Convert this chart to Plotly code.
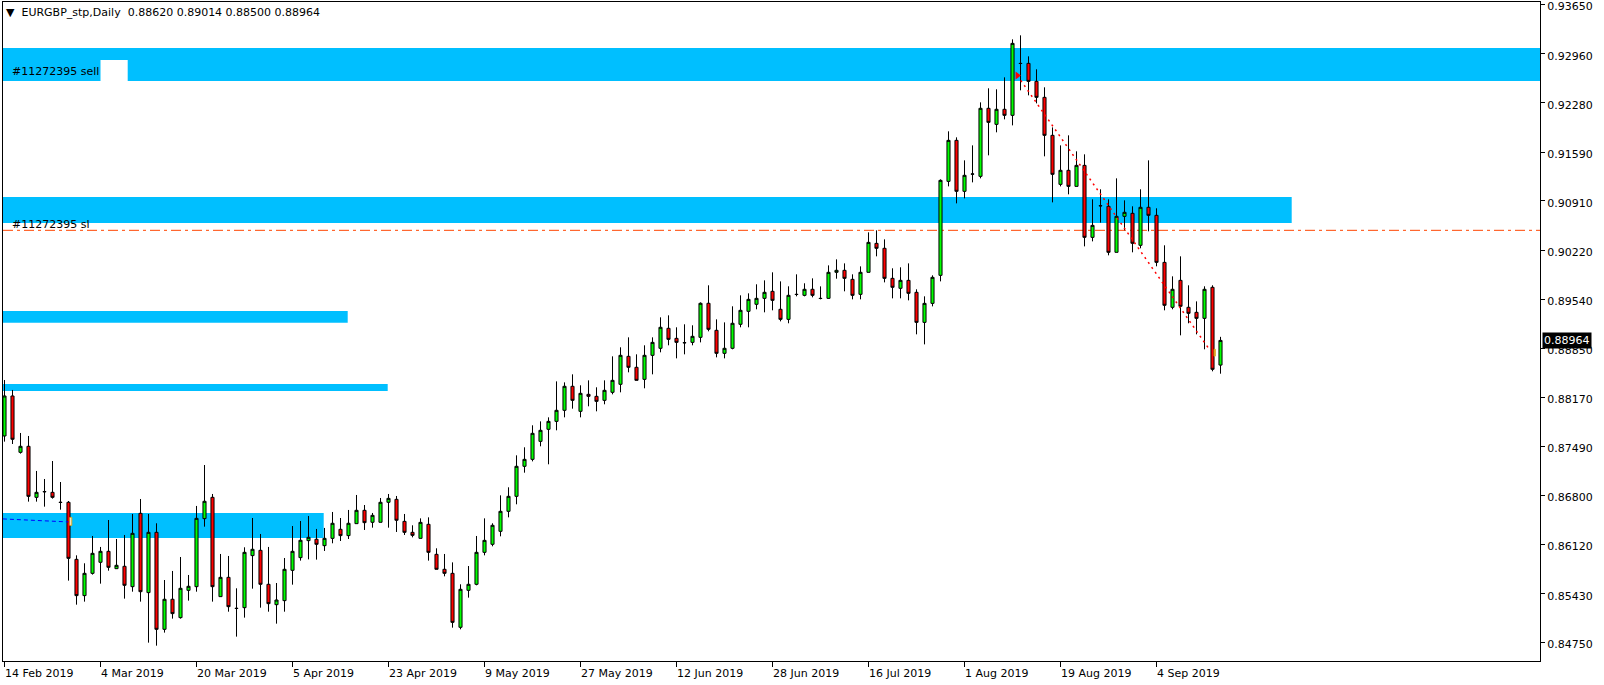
import plotly.graph_objects as go

# ---------------- data (EURGBP daily) ----------------
open_ = [0.87631, 0.88189, 0.87403, 0.87487, 0.86775, 0.86852, 0.86845, 0.86706, 0.86706, 0.85910,
         0.85404, 0.85715, 0.85869, 0.86022, 0.85780, 0.85813, 0.85529, 0.86552, 0.85446, 0.86287,
         0.84934, 0.85353, 0.85097, 0.85478, 0.85529, 0.86478, 0.86775, 0.85390, 0.85659, 0.85227,
         0.85236, 0.85962, 0.86036, 0.85562, 0.85278, 0.85334, 0.85757, 0.85934, 0.86171, 0.86190,
         0.86101, 0.86203, 0.86329, 0.86241, 0.86408, 0.86594, 0.86427, 0.86427, 0.86706, 0.86747,
         0.86440, 0.86287, 0.86203, 0.86399, 0.85980, 0.85771, 0.85715, 0.84962, 0.85478, 0.85562,
         0.86008, 0.86120, 0.86301, 0.86580, 0.86789, 0.87208, 0.87305, 0.87556, 0.87724, 0.87835,
         0.87989, 0.88324, 0.87975, 0.88212, 0.88184, 0.88128, 0.88240, 0.88352, 0.88742, 0.88589,
         0.88421, 0.88756, 0.88854, 0.89133, 0.88993, 0.88933, 0.88937, 0.89007, 0.89482, 0.89105,
         0.88784, 0.88854, 0.89189, 0.89370, 0.89468, 0.89551, 0.89649, 0.89398, 0.89258, 0.89607,
         0.89593, 0.89677, 0.89551, 0.89551, 0.89914, 0.89942, 0.89816, 0.89607, 0.89914, 0.90318,
         0.90249, 0.89830, 0.89691, 0.89802, 0.89635, 0.89216, 0.89481, 0.89872, 0.91183, 0.91755,
         0.91044, 0.91286, 0.91253, 0.92202, 0.91978, 0.92188, 0.92104, 0.92829, 0.92829, 0.92578,
         0.92355, 0.91825, 0.91141, 0.91337, 0.91113, 0.91406, 0.90402, 0.90844, 0.90835, 0.90193,
         0.90695, 0.90737, 0.90291, 0.90821, 0.90709, 0.90053, 0.89426, 0.89802, 0.89426, 0.89356,
         0.89272, 0.89705, 0.88620]
high = [0.88412, 0.88273, 0.87673, 0.87631, 0.87143, 0.87031, 0.87282, 0.86989, 0.86724, 0.85966,
        0.85855, 0.86236, 0.86083, 0.86459, 0.86194, 0.86250, 0.86543, 0.86752, 0.86543, 0.86413,
        0.85622, 0.85748, 0.85943, 0.85692, 0.86655, 0.87226, 0.86822, 0.85985, 0.85957, 0.85506,
        0.86078, 0.86487, 0.86264, 0.86083, 0.85580, 0.85929, 0.86375, 0.86445, 0.86515, 0.86334,
        0.86348, 0.86571, 0.86487, 0.86599, 0.86808, 0.86668, 0.86557, 0.86766, 0.86822, 0.86794,
        0.86543, 0.86385, 0.86482, 0.86496, 0.86064, 0.85985, 0.85868, 0.85562, 0.85817, 0.86236,
        0.86482, 0.86413, 0.86803, 0.86915, 0.87361, 0.87473, 0.87780, 0.87835, 0.87891, 0.88393,
        0.88379, 0.88491, 0.88338, 0.88407, 0.88310, 0.88407, 0.88742, 0.88868, 0.89007, 0.88770,
        0.88896, 0.89007, 0.89286, 0.89314, 0.89147, 0.89189, 0.89175, 0.89495, 0.89733, 0.89258,
        0.89216, 0.89440, 0.89593, 0.89621, 0.89747, 0.89802, 0.89914, 0.89788, 0.89719, 0.89886,
        0.89761, 0.89830, 0.89718, 0.90011, 0.90095, 0.90039, 0.89886, 0.89997, 0.90472, 0.90500,
        0.90374, 0.89970, 0.89984, 0.90039, 0.89677, 0.89579, 0.89872, 0.91211, 0.91881, 0.91797,
        0.91476, 0.91685, 0.92285, 0.92481, 0.92467, 0.92634, 0.93164, 0.93220, 0.92927, 0.92746,
        0.92495, 0.91936, 0.91685, 0.91825, 0.91602, 0.91560, 0.90932, 0.91072, 0.90932, 0.91225,
        0.90918, 0.90835, 0.91072, 0.91476, 0.90807, 0.90291, 0.89858, 0.90137, 0.89733, 0.89509,
        0.89719, 0.89733, 0.89014]
low = [0.87552, 0.87519, 0.87385, 0.86715, 0.86715, 0.86645, 0.86757, 0.86603, 0.85613, 0.85278,
       0.85320, 0.85697, 0.85571, 0.85752, 0.85780, 0.85362, 0.85459, 0.85320, 0.84748, 0.84706,
       0.84888, 0.85083, 0.85083, 0.85334, 0.85459, 0.86366, 0.85320, 0.85390, 0.85180, 0.84832,
       0.85097, 0.85501, 0.85236, 0.85180, 0.85013, 0.85180, 0.85557, 0.85892, 0.85910, 0.85906,
       0.86027, 0.86134, 0.86166, 0.86194, 0.86408, 0.86320, 0.86352, 0.86427, 0.86352, 0.86292,
       0.86250, 0.86217, 0.86203, 0.85892, 0.85771, 0.85673, 0.84957, 0.84934, 0.85376, 0.85548,
       0.85966, 0.86092, 0.86231, 0.86496, 0.86678, 0.87119, 0.87277, 0.87487, 0.87236, 0.87710,
       0.87891, 0.88012, 0.87891, 0.88045, 0.87975, 0.88073, 0.88212, 0.88240, 0.88519, 0.88407,
       0.88296, 0.88491, 0.88798, 0.88896, 0.88714, 0.88770, 0.88896, 0.88937, 0.89091, 0.88728,
       0.88714, 0.88840, 0.89147, 0.89147, 0.89398, 0.89356, 0.89384, 0.89230, 0.89203, 0.89579,
       0.89579, 0.89565, 0.89537, 0.89545, 0.89825, 0.89649, 0.89537, 0.89537, 0.89914, 0.90137,
       0.89774, 0.89551, 0.89551, 0.89523, 0.89049, 0.88909, 0.89439, 0.89788, 0.91113, 0.90876,
       0.90946, 0.91169, 0.91225, 0.91546, 0.91867, 0.92048, 0.91964, 0.92453, 0.92383, 0.92271,
       0.91532, 0.90890, 0.91113, 0.91002, 0.91113, 0.90276, 0.90346, 0.90607, 0.90151, 0.90193,
       0.90500, 0.90193, 0.90249, 0.90486, 0.89998, 0.89384, 0.89398, 0.89035, 0.89203, 0.89049,
       0.88840, 0.88533, 0.88500]
close = [0.88189, 0.87585, 0.87487, 0.86789, 0.86845, 0.86855, 0.86775, 0.86704, 0.85924, 0.85404,
         0.85715, 0.85994, 0.86022, 0.85799, 0.85827, 0.85548, 0.86273, 0.85459, 0.86287, 0.84934,
         0.85353, 0.85153, 0.85506, 0.85534, 0.86482, 0.86720, 0.85529, 0.85659, 0.85250, 0.85225,
         0.86008, 0.86050, 0.85562, 0.85292, 0.85343, 0.85771, 0.86022, 0.86176, 0.86217, 0.86120,
         0.86203, 0.86413, 0.86241, 0.86413, 0.86594, 0.86422, 0.86524, 0.86706, 0.86761, 0.86455,
         0.86287, 0.86245, 0.86426, 0.86008, 0.85771, 0.85715, 0.85031, 0.85492, 0.85562, 0.86008,
         0.86175, 0.86385, 0.86580, 0.86789, 0.87208, 0.87305, 0.87668, 0.87710, 0.87835, 0.87989,
         0.88324, 0.88128, 0.88226, 0.88184, 0.88114, 0.88268, 0.88407, 0.88756, 0.88589, 0.88407,
         0.88756, 0.88937, 0.89147, 0.88979, 0.88937, 0.88931, 0.89021, 0.89482, 0.89119, 0.88784,
         0.88854, 0.89203, 0.89384, 0.89537, 0.89551, 0.89635, 0.89523, 0.89258, 0.89593, 0.89605,
         0.89677, 0.89593, 0.89549, 0.89914, 0.89942, 0.89830, 0.89593, 0.89914, 0.90332, 0.90249,
         0.89830, 0.89705, 0.89802, 0.89621, 0.89216, 0.89481, 0.89844, 0.91197, 0.91755, 0.91044,
         0.91267, 0.91284, 0.92202, 0.92006, 0.92188, 0.92104, 0.93108, 0.92827, 0.92578, 0.92355,
         0.91825, 0.91281, 0.91337, 0.91113, 0.91406, 0.90402, 0.90569, 0.90842, 0.90193, 0.90695,
         0.90751, 0.90319, 0.90821, 0.90709, 0.90053, 0.89454, 0.89677, 0.89440, 0.89342, 0.89272,
         0.89677, 0.88561, 0.88964]

date_labels = ["14 Feb 2019", "4 Mar 2019", "20 Mar 2019", "5 Apr 2019", "23 Apr 2019",
               "9 May 2019", "27 May 2019", "12 Jun 2019", "28 Jun 2019", "16 Jul 2019",
               "1 Aug 2019", "19 Aug 2019", "4 Sep 2019"]
date_label_bars = [0, 12, 24, 36, 48, 60, 72, 84, 96, 108, 120, 132, 144]

price_ticks = [0.93650, 0.92960, 0.92280, 0.91590, 0.90910, 0.90220, 0.89540,
               0.88850, 0.88170, 0.87490, 0.86800, 0.86120, 0.85430, 0.84750]

# zones: (right-end bar, low price, high price); None = extends to the right edge
zone_end = [None, 160.9, 42.9, 47.9, 39.9]
zone_low = [0.92583, 0.90602, 0.89211, 0.88258, 0.86208]
zone_high = [0.93043, 0.90965, 0.89375, 0.88356, 0.86557]

order_label = "#11272395"
sell_price = 0.92634
sl_price = 0.90500
trade_bars = [126.6, 150.6]
trade_prices = [0.92660, 0.88840]
old_trade_bars = [-0.2, 8.0]
old_trade_prices = [0.86474, 0.86432]

title_text = "EURGBP_stp,Daily  0.88620 0.89014 0.88500 0.88964"
last_price = close[-1]

# ---------------- figure ----------------
X_MIN = -0.1875                 # half-pixel offset so 1px wicks stay crisp
X_MAX = X_MIN + 1537 / 8.0      # 8 px per bar
Y_MIN, Y_MAX = 0.84492, 0.93685
FONT = "DejaVu Sans"

bars = list(range(len(open_)))
fig = go.Figure()

fig.add_trace(go.Candlestick(
    x=bars, open=open_, high=high, low=low, close=close,
    increasing=dict(fillcolor="#00FF00", line=dict(color="black", width=1)),
    decreasing=dict(fillcolor="#FF0000", line=dict(color="black", width=1)),
    whiskerwidth=0, showlegend=False, hoverinfo="skip",
))

# trade history lines
fig.add_trace(go.Scatter(x=trade_bars, y=trade_prices, mode="lines",
                         line=dict(color="#FF0000", width=1.5, dash="2px,4px"),
                         showlegend=False, hoverinfo="skip"))
fig.add_trace(go.Scatter(x=[trade_bars[0]], y=[trade_prices[0]], mode="markers",
                         marker=dict(symbol="triangle-right", size=7, color="#FF0000"),
                         showlegend=False, hoverinfo="skip"))
fig.add_trace(go.Scatter(x=old_trade_bars, y=old_trade_prices, mode="lines",
                         line=dict(color="#0000FF", width=1, dash="4px,3px"),
                         showlegend=False, hoverinfo="skip"))

shapes = []
for end, lo, hi in zip(zone_end, zone_low, zone_high):
    shapes.append(dict(type="rect", xref="x", yref="y", x0=X_MIN,
                       x1=X_MAX if end is None else end, y0=lo, y1=hi,
                       fillcolor="#00BFFF", line=dict(width=0), layer="below"))
shapes.append(dict(type="line", xref="paper", yref="y", x0=0, x1=1, y0=sell_price, y1=sell_price,
                   line=dict(color="#008000", width=1, dash="10px,4px,3px,4px"), layer="below"))
shapes.append(dict(type="line", xref="paper", yref="y", x0=0, x1=1, y0=sl_price, y1=sl_price,
                   line=dict(color="#FF4500", width=1, dash="10px,4px,3px,4px"), layer="below"))
# white patch next to the sell label
shapes.append(dict(type="rect", xref="x", yref="y", x0=12.0, x1=15.4, y0=zone_low[0], y1=0.92876,
                   fillcolor="white", line=dict(width=0), layer="below"))
# small close markers
shapes.append(dict(type="rect", xref="x", yref="y", x0=8.16, x1=8.41, y0=0.86384, y1=0.86495,
                   fillcolor="white", line=dict(color="#DAA520", width=1), layer="above"))
shapes.append(dict(type="rect", xref="x", yref="y", x0=151.2, x1=151.35, y0=0.88745, y1=0.88840,
                   fillcolor="#DAA520", line=dict(color="#DAA520", width=1), layer="above"))

annotations = [
    dict(text="\u25BC  " + title_text, xref="paper", yref="paper", x=0, y=1,
         xanchor="left", yanchor="top", xshift=1, yshift=-2, showarrow=False,
         font=dict(family=FONT, size=11, color="black")),
    dict(text=order_label + " sell", xref="paper", yref="y", x=0, y=sell_price,
         xanchor="left", yanchor="bottom", xshift=7, yshift=-3, showarrow=False,
         font=dict(family=FONT, size=11, color="black")),
    dict(text=order_label + " sl", xref="paper", yref="y", x=0, y=sl_price,
         xanchor="left", yanchor="bottom", xshift=7, yshift=-3, showarrow=False,
         font=dict(family=FONT, size=11, color="black")),
    dict(text=f"{last_price:.5f}", xref="paper", yref="y", x=1, y=last_price,
         xanchor="left", yanchor="middle", xshift=2, showarrow=False,
         bgcolor="black", borderpad=1,
         font=dict(family=FONT, size=11, color="white")),
]
for b, lab in zip(date_label_bars, date_labels):
    annotations.append(dict(text=lab, xref="x", yref="paper", x=b, y=0,
                            xanchor="left", yanchor="top", yshift=-4, xshift=-2,
                            showarrow=False,
                            font=dict(family=FONT, size=11, color="black")))

fig.update_layout(
    width=1604, height=685,
    margin=dict(l=3, r=64, t=2, b=24, pad=0, autoexpand=False),
    paper_bgcolor="white", plot_bgcolor="white",
    boxgap=0.45,
    shapes=shapes, annotations=annotations,
    showlegend=False,
    xaxis=dict(range=[X_MIN, X_MAX], showgrid=False, zeroline=False, automargin=False,
               showline=True, linecolor="black", linewidth=1, mirror=True,
               ticks="outside", ticklen=5, tickcolor="black",
               tickvals=date_label_bars, showticklabels=False,
               rangeslider=dict(visible=False), fixedrange=True),
    yaxis=dict(range=[Y_MIN, Y_MAX], side="right", showgrid=False, zeroline=False,
               automargin=False,
               showline=True, linecolor="black", linewidth=1, mirror=True,
               ticks="outside", ticklen=4, tickcolor="black",
               tickvals=price_ticks, ticktext=[f"{v:.5f}" for v in price_ticks],
               ticklabeloverflow="allow", ticklabelshift=2,
               tickfont=dict(family=FONT, size=11, color="black"), fixedrange=True),
)

fig.write_html("out.html", config={"displayModeBar": False},
               post_script="document.body.style.margin='0px';document.body.style.padding='0px';")
